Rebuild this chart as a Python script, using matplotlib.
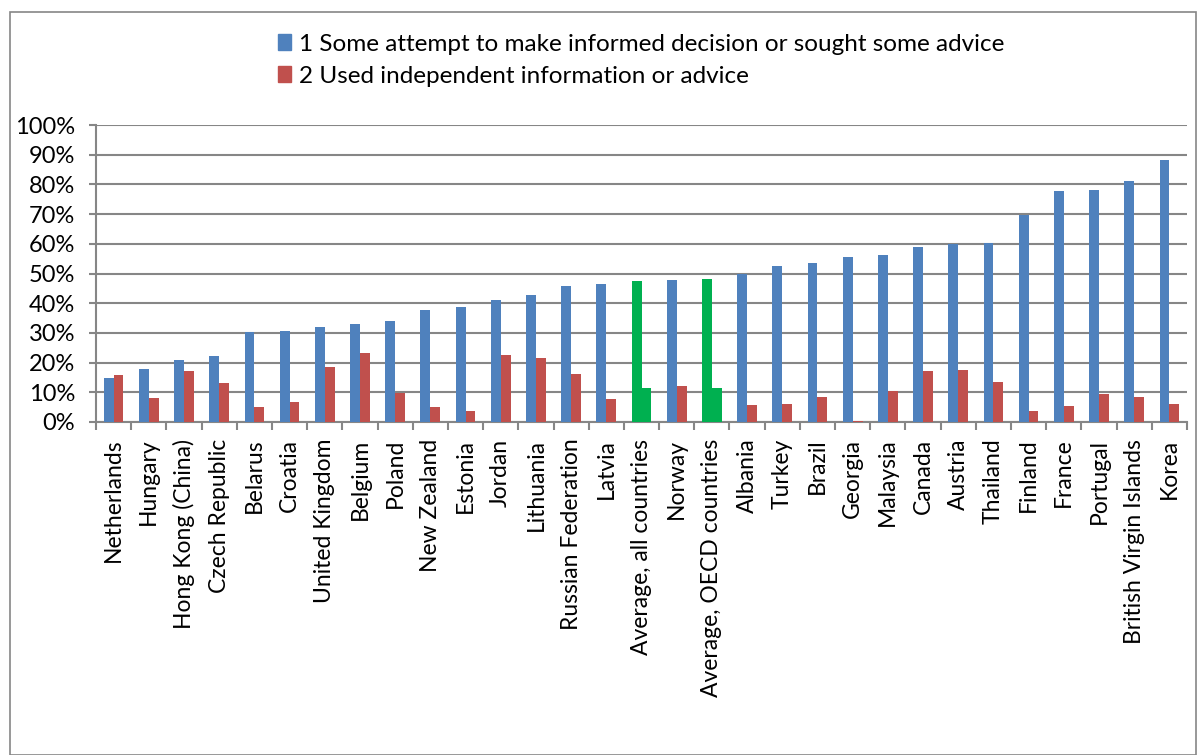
import matplotlib
matplotlib.use("Agg")
import matplotlib.pyplot as plt
import numpy as np
from matplotlib.patches import Rectangle

categories = ["Netherlands", "Hungary", "Hong Kong (China)", "Czech Republic", "Belarus",
              "Croatia", "United Kingdom", "Belgium", "Poland", "New Zealand", "Estonia",
              "Jordan", "Lithuania", "Russian Federation", "Latvia", "Average, all countries",
              "Norway", "Average, OECD countries", "Albania", "Turkey", "Brazil", "Georgia",
              "Malaysia", "Canada", "Austria", "Thailand", "Finland", "France", "Portugal",
              "British Virgin Islands", "Korea"]
series1 = [14.8, 17.8, 20.9, 22.1, 30.4, 30.7, 32.0, 33.0, 34.1, 37.8, 38.7,
           41.1, 42.9, 45.7, 46.3, 47.6, 47.7, 48.0, 49.9, 52.6, 53.5, 55.4,
           56.1, 59.0, 59.9, 60.4, 69.6, 77.8, 78.2, 81.1, 88.1]
series2 = [15.8, 8.0, 17.1, 13.2, 5.2, 6.8, 18.6, 23.3, 9.9, 5.2, 3.6,
           22.6, 21.6, 16.3, 7.9, 11.3, 12.2, 11.3, 5.7, 6.0, 8.3, 0.2,
           10.5, 17.1, 17.6, 13.5, 3.8, 5.4, 9.5, 8.3, 6.1]
highlight = ["Average, all countries", "Average, OECD countries"]
legend_labels = ["1 Some attempt to make informed decision or sought some advice",
                 "2 Used independent information or advice"]
yticks = [0, 10, 20, 30, 40, 50, 60, 70, 80, 90, 100]

BLUE = "#4F81BD"
RED = "#C0504D"
GREEN = "#00B050"
GRID = "#868686"

plt.rcParams['font.family'] = ['Lato', 'DejaVu Sans']

W, H = 1197, 755
fig = plt.figure(figsize=(W / 100, H / 100), dpi=100)
fig.patches.append(Rectangle((10 / W, 0), (W - 11) / W, (H - 12) / H, transform=fig.transFigure,
                             fill=False, edgecolor=GRID, linewidth=1.2))

left, right, top, bottom = 96, 1187, 125, 422
ax = fig.add_axes([left / W, 1 - bottom / H, (right - left) / W, (bottom - top) / H])

n = len(categories)
x = np.arange(n)
bw = 0.28
c1 = [GREEN if c in highlight else BLUE for c in categories]
c2 = [GREEN if c in highlight else RED for c in categories]
ax.bar(x - bw / 2, series1, bw, color=c1, label=legend_labels[0], zorder=3)
ax.bar(x + bw / 2, series2, bw, color=c2, label=legend_labels[1], zorder=3)

ax.set_xlim(-0.5, n - 0.5)
ax.set_ylim(0, 100)
ax.set_yticks(yticks)
ax.set_yticklabels([f"{v}%" for v in yticks], fontsize=17)
ax.yaxis.grid(True, color=GRID, linewidth=1.5, zorder=0)
ax.set_axisbelow(True)
for s in ["top", "right"]:
    ax.spines[s].set_visible(False)
for s in ["left", "bottom"]:
    ax.spines[s].set_color(GRID)
    ax.spines[s].set_linewidth(1.5)
ax.tick_params(axis="y", length=5, color=GRID, width=1.5, pad=10)

ax.set_xticks(np.arange(-0.5, n, 1.0), minor=False)
ax.set_xticklabels([])
ax.tick_params(axis="x", which="major", length=6, color=GRID, width=1.5, direction="out")
ax.set_xticks(x, minor=True)
ax.set_xticklabels(categories, minor=True, rotation=90, fontsize=16.5, va="top", ha="center")
ax.tick_params(axis="x", which="minor", length=0, pad=12)

handles = [Rectangle((0, 0), 1, 1, color=BLUE), Rectangle((0, 0), 1, 1, color=RED)]
fig.legend(handles, legend_labels, loc="upper left", bbox_to_anchor=(256 / W, 1 - 12 / H),
           frameon=False, fontsize=17.5, handlelength=0.55, handleheight=0.65,
           handletextpad=0.3, labelspacing=0.45)

fig.savefig("out.png", dpi=100)
